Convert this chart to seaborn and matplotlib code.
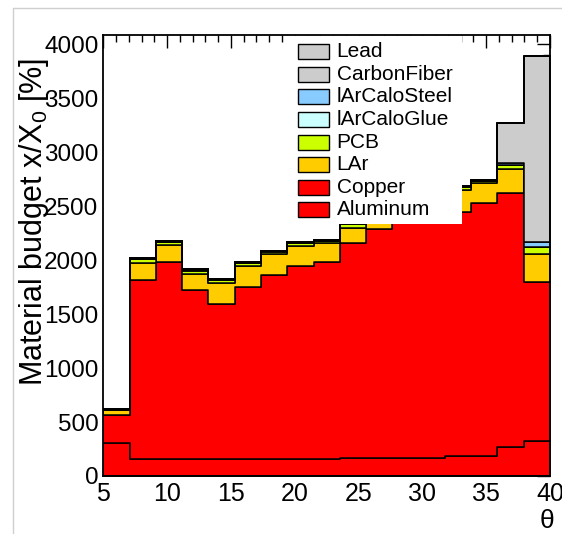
import numpy as np
import pandas as pd
import matplotlib
matplotlib.use("Agg")
import matplotlib.pyplot as plt
from matplotlib.patches import Rectangle
from matplotlib.lines import Line2D
from matplotlib.ticker import MultipleLocator
import seaborn as sns

# ---------------- data ----------------
theta_edges = [float(v) for v in np.linspace(5.0, 40.0, 18)]   # 17 bins in theta
materials = ["Lead", "CarbonFiber", "lArCaloSteel", "lArCaloGlue",
             "PCB", "LAr", "Copper", "Aluminum"]          # legend order (top -> bottom)
colors = ["#cccccc", "#cccccc", "#88ccff", "#ccffff",
          "#ccff00", "#ffcc00", "#ff0000", "#ff0000"]

aluminum = [308, 160, 160, 160, 160, 160, 160, 160, 160, 171, 171, 171, 171, 185, 185, 271, 327]
copper   = [257, 1655, 1822, 1562, 1433, 1587, 1701, 1787, 1825, 1984, 2113, 2179, 2229, 2262, 2340, 2347, 1472]
lar      = [45, 155, 154, 148, 191, 200, 195, 183, 170, 139, 150, 160, 170, 201, 185, 225, 257]
pcb      = [5, 37, 31, 31, 31, 23, 21, 25, 18, 37, 25, 25, 25, 25, 20, 37, 62]
glue     = [2, 3, 3, 5, 3, 3, 3, 3, 3, 3, 3, 3, 3, 3, 3, 3, 3]
steel    = [3, 6, 6, 12, 6, 6, 6, 6, 8, 6, 6, 6, 6, 6, 6, 20, 42]
carbon   = [0, 0, 0, 0, 0, 0, 0, 0, 0, 0, 0, 0, 0, 0, 0, 366, 1727]
lead     = [0, 0, 0, 0, 0, 0, 0, 0, 0, 0, 0, 0, 0, 0, 0, 0, 0]

values = {"Lead": lead, "CarbonFiber": carbon, "lArCaloSteel": steel,
          "lArCaloGlue": glue, "PCB": pcb, "LAr": lar,
          "Copper": copper, "Aluminum": aluminum}

edges = np.array(theta_edges)
centers = 0.5 * (edges[:-1] + edges[1:])
rows = []
for m in materials:
    for c, v in zip(centers, values[m]):
        rows.append({"theta": float(c), "budget": float(v), "material": m})
df = pd.DataFrame(rows)
palette = dict(zip(materials, colors))

# ---------------- style ----------------
sns.set_style("white")
plt.rcParams["font.family"] = ["Liberation Sans", "DejaVu Sans"]
plt.rcParams["mathtext.fontset"] = "custom"
plt.rcParams["mathtext.rm"] = "Liberation Sans"
plt.rcParams["mathtext.it"] = "Liberation Sans:italic"
for k in ["text.color", "axes.labelcolor", "xtick.color", "ytick.color"]:
    plt.rcParams[k] = "black"

fig = plt.figure(figsize=(5.62, 5.34), dpi=100)
W, H = 562.0, 534.0
L, R, B, T = 103.3, 550.0, 476.0, 35.0
ax = fig.add_axes([L / W, 1 - B / H, (R - L) / W, (B - T) / H])

sns.histplot(data=df, x="theta", weights="budget", hue="material",
             hue_order=materials, palette=palette, bins=theta_edges,
             multiple="stack", element="step", fill=True, alpha=1,
             edgecolor="black", linewidth=1.1, legend=False, ax=ax)

ax.set_xlim(5, 40)
ax.set_ylim(0, 4084)
ax.set_xticks(range(5, 41, 5))
ax.set_yticks(range(0, 4001, 500))
ax.xaxis.set_minor_locator(MultipleLocator(1))
ax.yaxis.set_minor_locator(MultipleLocator(100))
ax.tick_params(which="both", direction="in", top=True, right=True, color="black")
ax.tick_params(which="major", length=9.5, width=1.0)
ax.tick_params(which="minor", length=5, width=1.0)
ax.tick_params(axis="x", which="major", labelsize=18, pad=4.5)
ax.tick_params(axis="y", which="major", labelsize=17.5, pad=3.5)
for s in ax.spines.values():
    s.set_linewidth(1.3)
    s.set_color("black")
    s.set_zorder(10)

ax.set_ylabel("Material budget x/X$\\mathregular{_0}$ [%]", fontsize=22, ha="right")
ax.yaxis.set_label_coords((51 - L) / (R - L), (B - 58) / (B - T))
ax.set_xlabel("θ", fontsize=19, ha="right")
ax.xaxis.set_label_coords((554 - L) / (R - L), (B - 509) / (B - T))

# ---------------- legend (ROOT style: white box, no border) ----------------
def ax_x(px):
    return (px - L) / (R - L)

def ax_y(py):
    return (B - py) / (B - T)

ax.add_patch(Rectangle((ax_x(290), ax_y(224)), ax_x(461.7) - ax_x(290),
                       ax_y(36) - ax_y(224), transform=ax.transAxes,
                       facecolor="white", edgecolor="none", zorder=5))
for i, (m, c) in enumerate(zip(materials, colors)):
    yc = 51.7 + i * 22.6
    ax.add_patch(Rectangle((ax_x(298.3), ax_y(yc + 7.5)), ax_x(329.3) - ax_x(298.3),
                           ax_y(yc - 7.5) - ax_y(yc + 7.5), transform=ax.transAxes,
                           facecolor=c, edgecolor="black", linewidth=1.0, zorder=6))
    ax.text(ax_x(336.7), ax_y(yc), m, transform=ax.transAxes, fontsize=15,
            va="center", ha="left", zorder=7)

# outer canvas frame lines (light grey)
fig.add_artist(Line2D([13 / W, 13 / W], [0, 1 - 8 / H], color="#cfcfcf", lw=1.0))
fig.add_artist(Line2D([13 / W, 1], [1 - 8 / H, 1 - 8 / H], color="#cfcfcf", lw=1.0))

fig.savefig("out.png", dpi=100)
